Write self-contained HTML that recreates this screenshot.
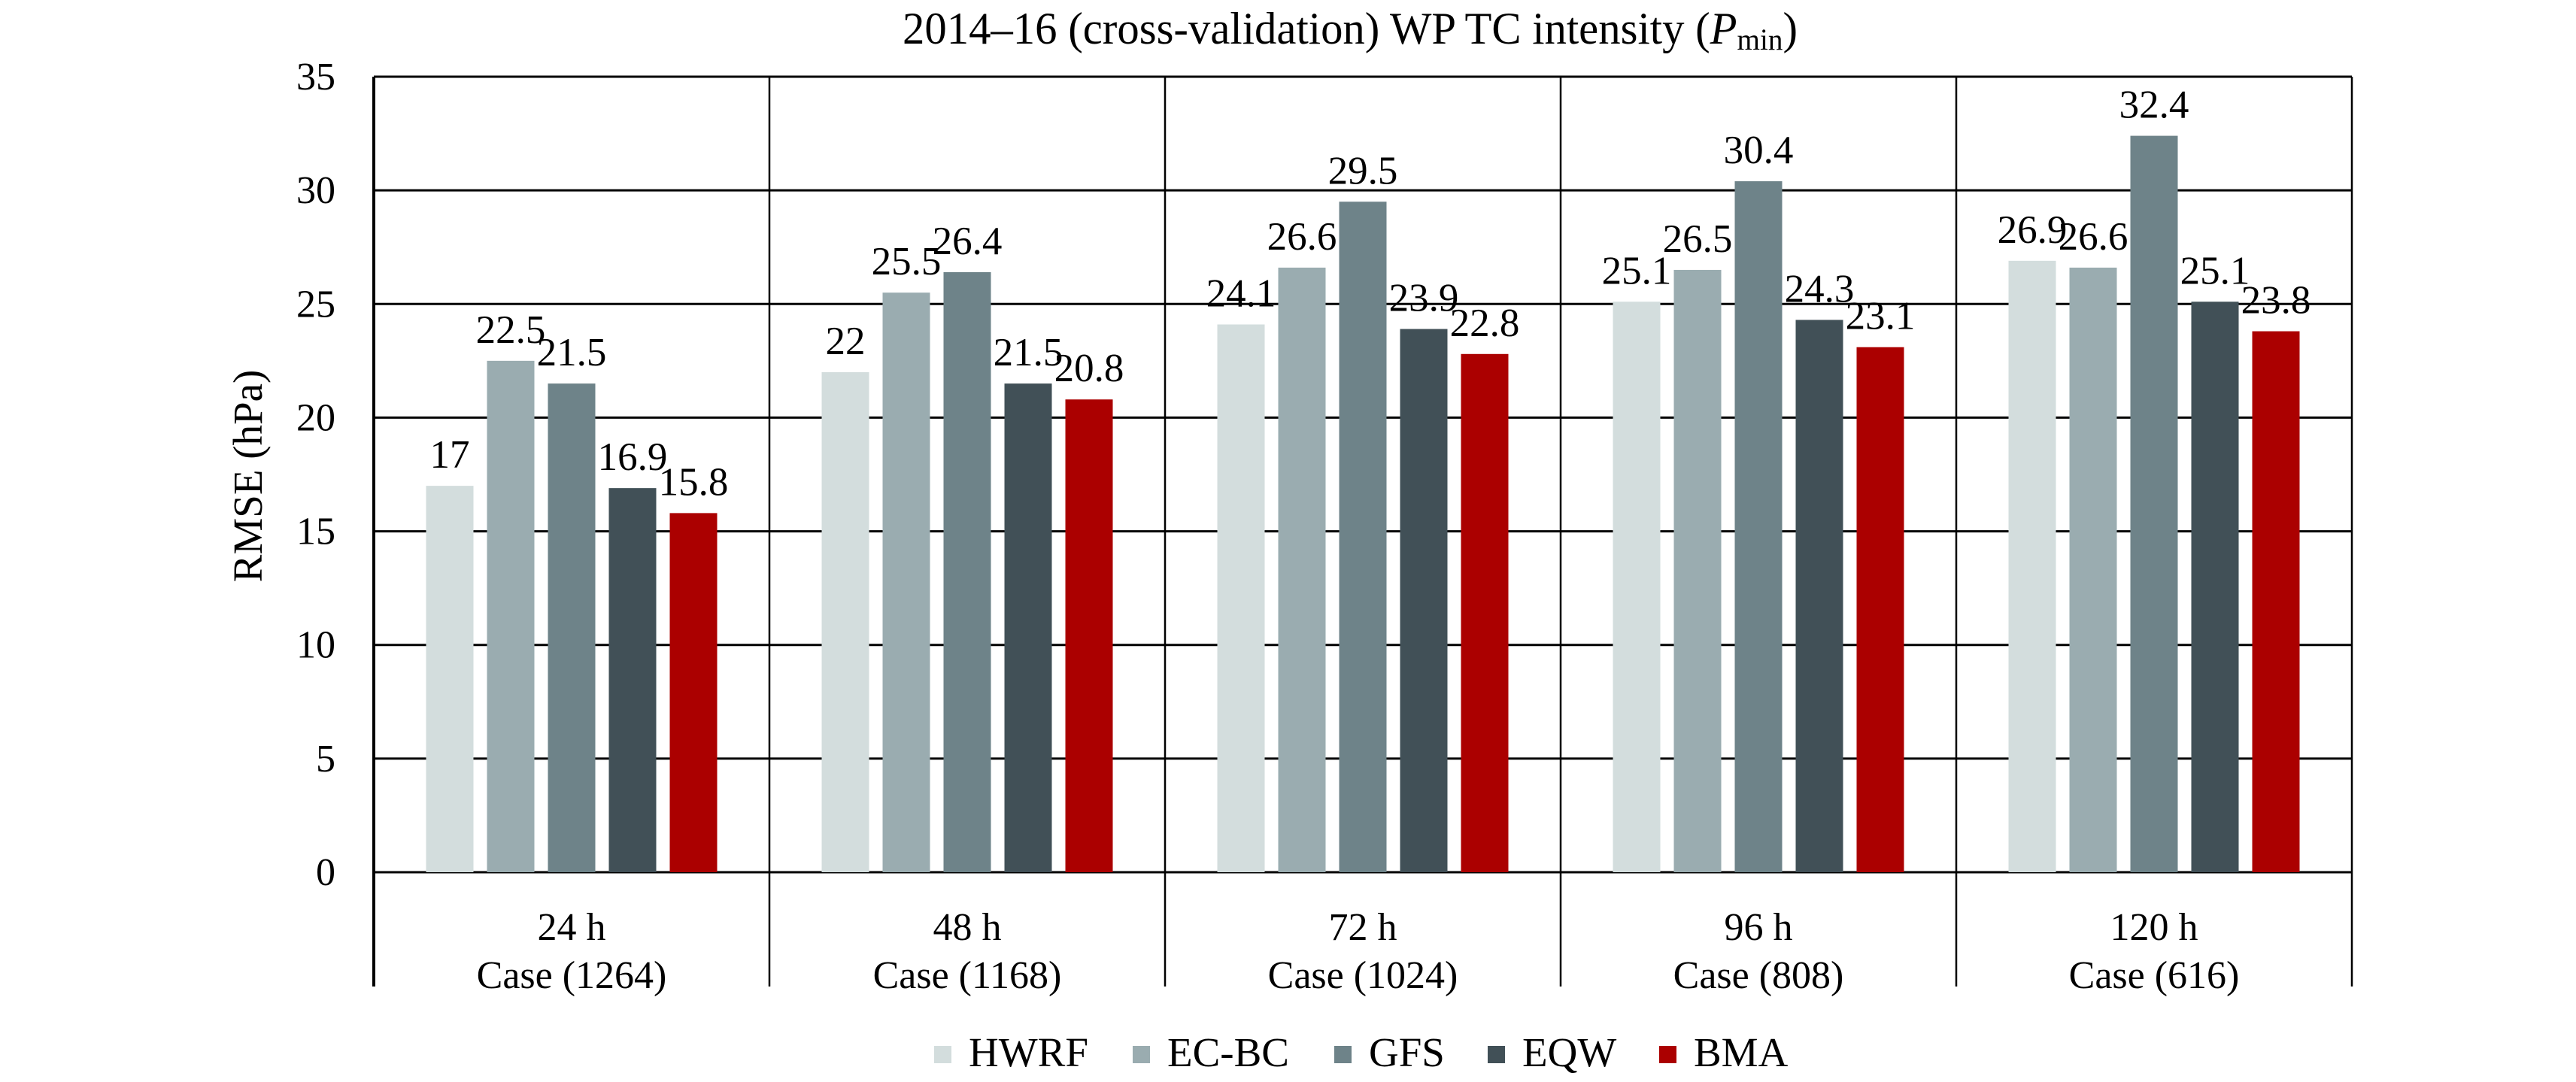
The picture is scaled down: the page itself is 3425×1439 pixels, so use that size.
<!DOCTYPE html>
<html><head><meta charset="utf-8"><style>
html,body{margin:0;padding:0;background:#fff;width:3425px;height:1439px;overflow:hidden}
svg{display:block}
text{font-family:"Liberation Serif","Times New Roman",serif;fill:#000}
</style></head><body>
<svg id="chart" width="3425" height="1439" viewBox="0 0 3425 1439" xmlns="http://www.w3.org/2000/svg">
<text x="1200" y="58" font-size="60" textLength="1190" lengthAdjust="spacingAndGlyphs">2014–16 (cross-validation) WP TC intensity  (<tspan font-style="italic">P</tspan><tspan font-size="40" dy="8">min</tspan><tspan dy="-8">)</tspan></text>
<text transform="translate(348,633) rotate(-90)" text-anchor="middle" font-size="55">RMSE (hPa)</text>
<g id="grid"></g><g id="bars"></g><g id="labels"></g><g id="legend"></g>
</svg>
<script>
const categories = ["24 h","48 h","72 h","96 h","120 h"];
const caseCounts = ["Case (1264)","Case (1168)","Case (1024)","Case (808)","Case (616)"];
const seriesNames = ["HWRF","EC-BC","GFS","EQW","BMA"];
const seriesColors = ["#d3dddd","#9aacb0","#6e8389","#415057","#ab0000"];
const hwrf = [17,22,24.1,25.1,26.9];
const ecbc = [22.5,25.5,26.6,26.5,26.6];
const gfs = [21.5,26.4,29.5,30.4,32.4];
const eqw = [16.9,21.5,23.9,24.3,25.1];
const bma = [15.8,20.8,22.8,23.1,23.8];
const yTicks = [0,5,10,15,20,25,30,35];

const series = [hwrf,ecbc,gfs,eqw,bma];
const NS = "http://www.w3.org/2000/svg";
const X0 = 497, X1 = 3127, YTOP = 102, YZERO = 1160, YBOT = 1312, YMAX = 35;
const groupW = (X1 - X0) / categories.length;
const barW = 63, barStep = 81;
function y(v){ return YZERO - v / YMAX * (YZERO - YTOP); }
function groupX(i){ return X0 + i * groupW; }
function barX(i, s){ return groupX(i) + groupW/2 + (s - (series.length-1)/2) * barStep - barW/2; }
function mk(tag, attrs, parent, txt){
  const e = document.createElementNS(NS, tag);
  for (const k in attrs) e.setAttribute(k, attrs[k]);
  if (txt !== undefined) e.textContent = txt;
  parent.appendChild(e); return e;
}
const grid = document.getElementById('grid'), bars = document.getElementById('bars'), labels = document.getElementById('labels'), legend = document.getElementById('legend');
yTicks.forEach(t => {
  const l = mk('line', {x1:X0, x2:X1, y1:y(t), y2:y(t), stroke:'#000', 'stroke-width':3}, grid);
  
  
  const tx = mk('text', {x:446, y:y(t)+17, 'text-anchor':'end', 'font-size':52}, grid, String(t));
  
  
});
for (let i = 0; i <= categories.length; i++) {
  const l = mk('line', {x1:groupX(i), x2:groupX(i), y1:YTOP, y2:YBOT, stroke:'#000', 'stroke-width': i===0 ? 4 : 2.5}, grid);
  
  
}
categories.forEach((c, i) => {
  const cx = groupX(i) + groupW/2;
  const t1 = mk('text', {x:cx, y:1250, 'text-anchor':'middle', 'font-size':52}, labels, c);
  
  
  const t2 = mk('text', {x:cx, y:1314, 'text-anchor':'middle', 'font-size':52}, labels, caseCounts[i]);
  
  
  series.forEach((arr, s) => {
    const v = arr[i];
    const r = mk('rect', {x:barX(i,s), y:y(v), width:barW, height:YZERO - y(v), fill:seriesColors[s]}, bars);
    
    
    const vt = mk('text', {x:barX(i,s)+barW/2, y:y(v)-24, 'text-anchor':'middle', 'font-size':53}, labels, String(v));
    
    
  });
});
const legendX = [1242,1506,1774,1978,2206];
seriesNames.forEach((n, s) => {
  const sq = mk('rect', {x:legendX[s], y:1391, width:23, height:23, fill:seriesColors[s]}, legend);
  
  
  const t = mk('text', {x:legendX[s]+46, y:1418, 'font-size':55}, legend, n);
  
  
});
</script>
</body></html>
